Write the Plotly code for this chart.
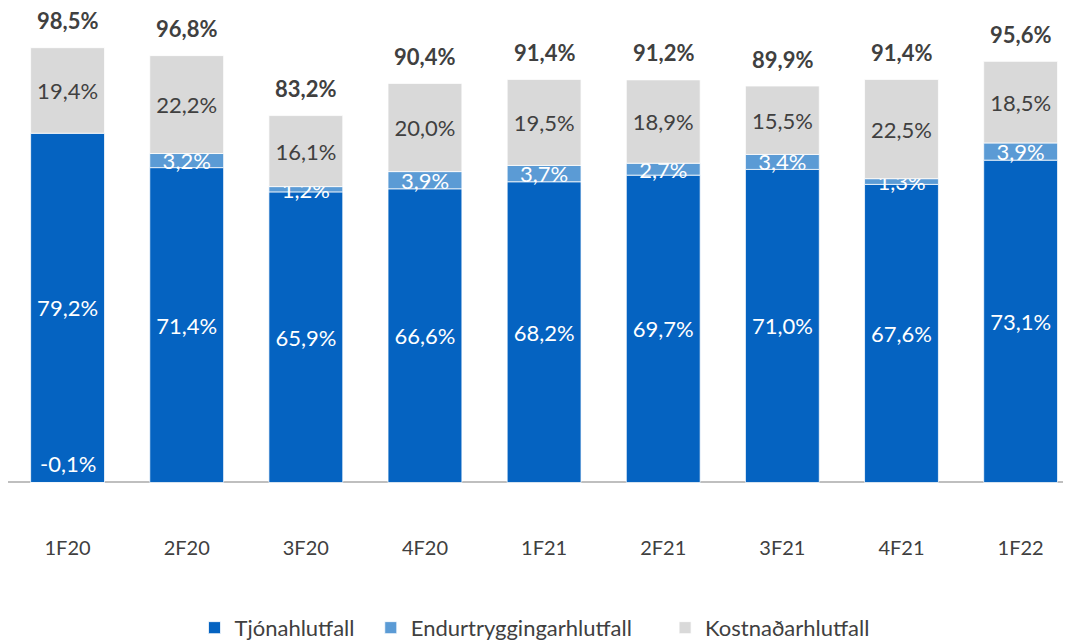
import plotly.graph_objects as go

categories = ["1F20", "2F20", "3F20", "4F20", "1F21", "2F21", "3F21", "4F21", "1F22"]
tjon = [79.2, 71.4, 65.9, 66.6, 68.2, 69.7, 71.0, 67.6, 73.1]
endur = [-0.1, 3.2, 1.2, 3.9, 3.7, 2.7, 3.4, 1.3, 3.9]
kostn = [19.4, 22.2, 16.1, 20.0, 19.5, 18.9, 15.5, 22.5, 18.5]
totals = [98.5, 96.8, 83.2, 90.4, 91.4, 91.2, 89.9, 91.4, 95.6]
series_names = ["Tjónahlutfall", "Endurtryggingarhlutfall", "Kostnaðarhlutfall"]

FONT = "Lato, Calibri, sans-serif"
DARK = "#404040"
LBL = 22
NB = "\u00a0"

def fmt(v):
    return f"{v:.1f}".replace(".", ",") + "%"

fig = go.Figure()
fig.add_trace(go.Bar(
    x=categories, y=tjon, name=series_names[0] + NB * 2,
    marker=dict(color="#0563C1", line=dict(color="white", width=0.75)),
    text=[fmt(v) for v in tjon], textposition="inside", insidetextanchor="middle",
    textangle=0, textfont=dict(color="white", size=LBL, family=FONT),
    constraintext="none",
))
fig.add_trace(go.Bar(
    x=categories, y=endur, name=series_names[1] + NB * 5,
    marker=dict(color="#5B9BD5", line=dict(color="white", width=0.75)),
    text=[fmt(v) if v > 0 else "" for v in endur],
    textposition=["none" if v <= 0 else "inside" for v in endur],
    insidetextanchor="middle", textangle=0,
    textfont=dict(color="white", size=LBL, family=FONT),
    constraintext="none",
))
fig.add_trace(go.Bar(
    x=categories, y=kostn, name=series_names[2],
    marker=dict(color="#D9D9D9", line=dict(color="white", width=0.75)),
    text=[fmt(v) for v in kostn], textposition="inside", insidetextanchor="middle",
    textangle=0, textfont=dict(color=DARK, size=LBL, family=FONT),
    constraintext="none",
))

annotations = []
for c, v in zip(categories, endur):
    if v <= 0:
        annotations.append(dict(x=c, y=0, xref="x", yref="y", text=fmt(v),
                                showarrow=False, yanchor="bottom", yshift=3,
                                font=dict(color="white", size=LBL, family=FONT)))
for c, t, a, b, k in zip(categories, totals, tjon, endur, kostn):
    top = a + max(b, 0) + k
    annotations.append(dict(x=c, y=top, xref="x", yref="y", text=f"<b>{fmt(t)}</b>",
                            showarrow=False, yanchor="middle", yshift=27,
                            font=dict(color=DARK, size=22, family=FONT)))

fig.update_layout(
    barmode="relative",
    bargap=0.38,
    width=1071, height=641,
    margin=dict(l=0, r=0, t=0, b=115, autoexpand=False),
    plot_bgcolor="white", paper_bgcolor="white",
    font=dict(family=FONT, color=DARK, size=20),
    uniformtext=dict(minsize=LBL, mode="show"),
    showlegend=True,
    legend=dict(orientation="h", x=0.4916, xanchor="center", y=0.033, yref="container",
                yanchor="middle", font=dict(size=22, family=FONT, color=DARK),
                traceorder="normal"),
    annotations=annotations,
    xaxis=dict(range=[-0.5, 8.49], showgrid=False, showline=False, zeroline=False,
               tickfont=dict(size=20, family=FONT, color=DARK), ticks="",
               automargin=False),
    yaxis=dict(range=[-11.68, 107.6], showgrid=False, showticklabels=False,
               zeroline=True, zerolinecolor="#BFBFBF", zerolinewidth=1.5, showline=False,
               automargin=False),
)

fig.write_html("out.html")
